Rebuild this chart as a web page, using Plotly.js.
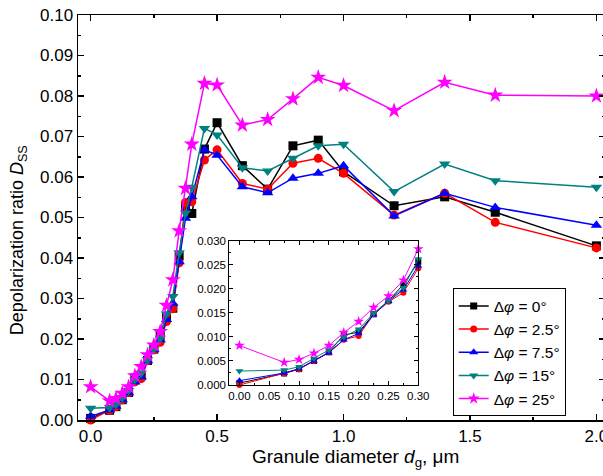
<!DOCTYPE html>
<html>
<head>
<meta charset="utf-8">
<script src="https://cdn.plot.ly/plotly-3.0.1.min.js"></script>
<style>
html,body{margin:0;padding:0;overflow:hidden;background:#fff;}
#chart{width:605px;height:476px;}
</style>
</head>
<body>
<div id="chart"></div>
<script>
// Granule diameter (um)
const dg = [0, 0.075, 0.1, 0.125, 0.15, 0.175, 0.2, 0.225, 0.25, 0.275, 0.3, 0.325, 0.35, 0.375, 0.4, 0.45, 0.5, 0.6, 0.7, 0.8, 0.9, 1.0, 1.2, 1.4, 1.6, 2.0];
// Depolarization ratio D_SS for each delta-phi
const d0   = [0.0004, 0.0024, 0.0033, 0.0050, 0.0068, 0.0104, 0.0110, 0.0147, 0.0175, 0.0209, 0.0256, 0.0276, 0.0405, 0.0525, 0.0510, 0.0669, 0.0734, 0.0628, 0.0570, 0.0677, 0.0691, 0.0613, 0.0529, 0.0551, 0.0513, 0.0430];
const d2_5 = [0.0000, 0.0024, 0.0033, 0.0050, 0.0068, 0.0094, 0.0102, 0.0147, 0.0173, 0.0192, 0.0243, 0.0275, 0.0388, 0.0537, 0.0539, 0.0642, 0.0667, 0.0584, 0.0570, 0.0634, 0.0646, 0.0609, 0.0506, 0.0560, 0.0488, 0.0425];
const d7_5 = [0.0009, 0.0025, 0.0034, 0.0050, 0.0067, 0.0094, 0.0107, 0.0146, 0.0174, 0.0198, 0.0248, 0.0288, 0.0391, 0.0498, 0.0551, 0.0667, 0.0654, 0.0576, 0.0561, 0.0597, 0.0609, 0.0628, 0.0504, 0.0560, 0.0525, 0.0481];
const d15  = [0.0029, 0.0031, 0.0038, 0.0055, 0.0073, 0.0100, 0.0116, 0.0149, 0.0175, 0.0202, 0.0262, 0.0305, 0.0413, 0.0511, 0.0575, 0.0720, 0.0704, 0.0623, 0.0615, 0.0646, 0.0677, 0.0681, 0.0564, 0.0632, 0.0591, 0.0575];
const d25  = [0.0082, 0.0047, 0.0053, 0.0066, 0.0082, 0.0109, 0.0132, 0.0161, 0.0185, 0.0218, 0.0283, 0.0346, 0.0467, 0.0572, 0.0681, 0.0831, 0.0827, 0.0728, 0.0742, 0.0793, 0.0846, 0.0826, 0.0764, 0.0834, 0.0802, 0.0800];
const seriesNames = ['Δ<i>φ</i> = 0°', 'Δ<i>φ</i> = 2.5°', 'Δ<i>φ</i> = 7.5°', 'Δ<i>φ</i> = 15°', 'Δ<i>φ</i> = 25°'];
const insetMax = 0.3;

const seriesData = [d0, d2_5, d7_5, d15, d25];
const colors = ['#000000', '#ff0000', '#0000ff', '#008080', '#ff00ff'];
const symbols = ['square', 'circle', 'triangle-up', 'triangle-down', 'star'];
const mainSizes = [9, 9, 10, 10, 12];
const insetSizes = [6, 6, 7, 7, 8];
const legendSizes = [7, 7, 8, 8, 9];

const traces = [];
seriesData.forEach((ys, i) => {
  traces.push({
    x: dg, y: ys, name: seriesNames[i], type: 'scatter', mode: 'lines+markers',
    line: {color: colors[i], width: 1.5},
    marker: {symbol: symbols[i], color: colors[i], size: mainSizes[i]},
    cliponaxis: false, showlegend: false, xaxis: 'x', yaxis: 'y'
  });
});
seriesData.forEach((ys, i) => {
  const xs = dg.filter(v => v <= insetMax + 1e-9);
  traces.push({
    x: xs, y: ys.slice(0, xs.length), name: seriesNames[i], type: 'scatter', mode: 'lines+markers',
    line: {color: colors[i], width: 1},
    marker: {symbol: symbols[i], color: colors[i], size: insetSizes[i]},
    cliponaxis: false, showlegend: false, xaxis: 'x2', yaxis: 'y2'
  });
});
// legend entries (no data drawn, smaller legend symbols)
seriesData.forEach((ys, i) => {
  traces.push({
    x: [null], y: [null], name: seriesNames[i], type: 'scatter', mode: 'lines+markers',
    line: {color: colors[i], width: 1.5},
    marker: {symbol: symbols[i], color: colors[i], size: legendSizes[i]},
    showlegend: true, xaxis: 'x', yaxis: 'y', hoverinfo: 'skip'
  });
});

const FONT = 'Liberation Sans, Arial, sans-serif';
const layout = {
  width: 605, height: 476,
  margin: {l: 78, r: 0, t: 15, b: 56},
  paper_bgcolor: '#fff', plot_bgcolor: '#fff',
  font: {family: FONT, color: '#000'},
  showlegend: true,
  legend: {
    x: 0.711, y: 0.325, xanchor: 'left', yanchor: 'top',
    bgcolor: '#fff', bordercolor: '#000', borderwidth: 1,
    font: {family: FONT, size: 15.5, color: '#000'}, tracegroupgap: 0
  },
  xaxis: {
    domain: [0, 1], range: [-0.05, 2.034], dtick: 0.5, tick0: 0, tickformat: '.1f',
    ticks: 'inside', ticklen: 6, tickwidth: 1.5, tickcolor: '#000', ticklabeloverflow: 'allow',
    minor: {dtick: 0.25, tick0: 0, ticks: 'inside', ticklen: 3, tickwidth: 1.5, tickcolor: '#000', showgrid: false},
    showline: true, mirror: 'ticks', linecolor: '#000', linewidth: 1.5,
    showgrid: false, zeroline: false, tickfont: {size: 17, family: FONT}
  },
  yaxis: {
    domain: [0, 1], range: [0, 0.1], dtick: 0.01, tick0: 0, tickformat: '.2f',
    ticks: 'inside', ticklen: 6, tickwidth: 1.5, tickcolor: '#000',
    minor: {dtick: 0.005, tick0: 0, ticks: 'inside', ticklen: 3, tickwidth: 1.5, tickcolor: '#000', showgrid: false},
    showline: true, mirror: 'ticks', linecolor: '#000', linewidth: 1.5,
    showgrid: false, zeroline: false, tickfont: {size: 17, family: FONT}
  },
  xaxis2: {
    anchor: 'y2', domain: [0.2871, 0.6457], range: [-0.017, 0.3], dtick: 0.05, tick0: 0, tickformat: '.2f',
    ticks: 'inside', ticklen: 4, tickwidth: 1, tickcolor: '#000', ticklabeloverflow: 'allow',
    minor: {dtick: 0.025, tick0: 0, ticks: 'inside', ticklen: 2, tickwidth: 1, tickcolor: '#000', showgrid: false},
    showline: true, mirror: 'ticks', linecolor: '#000', linewidth: 1,
    showgrid: false, zeroline: false, tickfont: {size: 11.5, family: FONT}
  },
  yaxis2: {
    anchor: 'x2', domain: [0.0864, 0.4427], range: [0, 0.03], dtick: 0.005, tick0: 0, tickformat: '.3f',
    ticks: 'inside', ticklen: 4, tickwidth: 1, tickcolor: '#000',
    minor: {dtick: 0.0025, tick0: 0, ticks: 'inside', ticklen: 2, tickwidth: 1, tickcolor: '#000', showgrid: false},
    showline: true, mirror: 'ticks', linecolor: '#000', linewidth: 1,
    showgrid: false, zeroline: false, tickfont: {size: 11.5, family: FONT}
  },
  annotations: [
    {text: 'Granule diameter <i>d</i><sub>g</sub>, μm', xref: 'paper', yref: 'paper',
     x: 0.5275, y: -0.093, xanchor: 'center', yanchor: 'middle', showarrow: false,
     font: {family: FONT, size: 19, color: '#000'}},
    {text: 'Depolarization ratio <i>D</i><sub>SS</sub>', xref: 'paper', yref: 'paper',
     x: -0.1139, y: 0.444, xanchor: 'center', yanchor: 'middle', showarrow: false, textangle: -90,
     font: {family: FONT, size: 18, color: '#000'}}
  ]
};

Plotly.newPlot('chart', traces, layout, {displayModeBar: false, staticPlot: true});
</script>
</body>
</html>
